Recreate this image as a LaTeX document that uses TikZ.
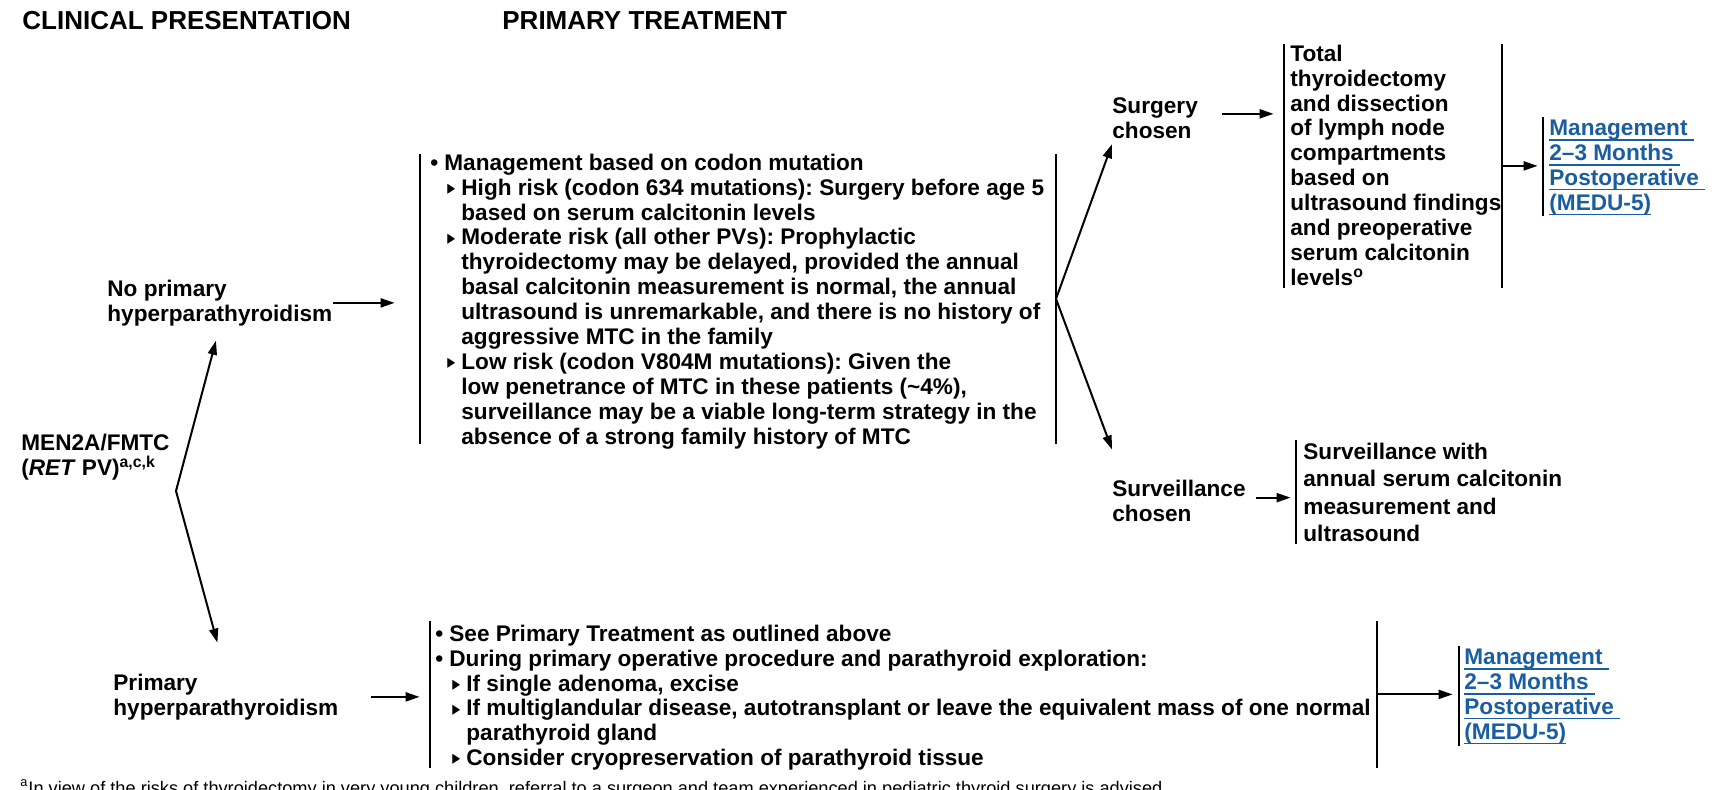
\documentclass[tikz,border=0pt]{standalone}
\usepackage{amssymb}
\usepackage{fontspec}
\setmainfont{Liberation Sans}
\usepackage{xcolor}
\usetikzlibrary{arrows.meta,calc}

\definecolor{linkblue}{HTML}{1A5E9F}
\newcommand{\bodyfont}{\fontsize{11.3pt}{12.45pt}\selectfont\bfseries\frenchspacing}
\newcommand{\survfont}{\fontsize{11.3pt}{13.7pt}\selectfont\bfseries\frenchspacing}
\newcommand{\tri}{\raisebox{0.9pt}{\scalebox{0.55}[0.75]{$\blacktriangleright$}}}
\newcommand{\lvone}{\makebox[7pt][l]{\textbullet}}
\newcommand{\lvtwo}{\hspace*{8pt}\makebox[7.5pt][l]{\tri}}
\newcommand{\lvcont}{\hspace*{15.5pt}}
\newsavebox{\lnkbox}
\newcommand{\lnk}[1]{\sbox\lnkbox{#1}\rlap{\rule[-2.6pt]{\wd\lnkbox}{0.9pt}}\usebox\lnkbox}

\begin{document}
\begin{tikzpicture}[
    x=0.5pt, y=-0.5pt,
    hdr/.style={anchor=base west, inner sep=0pt, font=\fontsize{13pt}{15pt}\selectfont\bfseries},
    txt/.style={anchor=north west, inner sep=0pt, align=left, font=\bodyfont},
    link/.style={txt, text=linkblue},
    vbar/.style={inner sep=0pt, minimum width=0pt, minimum height=#1, anchor=north},
    bar/.style={line width=0.9pt},
    arrow/.style={-{Triangle[length=7pt,width=4.5pt]}, line width=1pt},
    note/.style={anchor=base west, inner sep=0pt, font=\fontsize{9.1pt}{11pt}\selectfont}
]
    \useasboundingbox (0,0) rectangle (1718,790);
    \clip (0,0) rectangle (1718,790);

    % Column headers
    \node[hdr] (hclin) at (22,30) {CLINICAL PRESENTATION};
    \node[hdr] (htreat) at (502,30) {PRIMARY TREATMENT};

    % Clinical presentation
    \node[txt] (men) at (21,433.5) {MEN2A/FMTC\\(\textit{RET} PV)\textsuperscript{a,c,k}};
    \coordinate (split) at (176,491);
    \node[txt] (nophpt) at (107,279.5) {No primary\\hyperparathyroidism};
    \node[txt] (phpt) at (113,673.5) {Primary\\hyperparathyroidism};

    % Primary treatment, no hyperparathyroidism
    \node[txt] (codon) at (430,153.5) {\lvone Management based on codon mutation\\
        \lvtwo High risk (codon 634 mutations): Surgery before age 5\\
        \lvcont based on serum calcitonin levels\\
        \lvtwo Moderate risk (all other PVs): Prophylactic\\
        \lvcont thyroidectomy may be delayed, provided the annual\\
        \lvcont basal calcitonin measurement is normal, the annual\\
        \lvcont ultrasound is unremarkable, and there is no history of\\
        \lvcont aggressive MTC in the family\\
        \lvtwo Low risk (codon V804M mutations): Given the\\
        \lvcont low penetrance of MTC in these patients (\textasciitilde4\%),\\
        \lvcont surveillance may be a viable long-term strategy in the\\
        \lvcont absence of a strong family history of MTC};
    \node[vbar=144.5pt] (codonL) at (420,154) {};
    \node[vbar=144.5pt] (codonR) at (1056,154) {};

    \node[txt] (surg) at (1112,97.5) {Surgery\\chosen};
    \node[txt] (surv) at (1112,479.5) {Surveillance\\chosen};

    \node[txt] (thyr) at (1290,44.5) {Total\\thyroidectomy\\and dissection\\of lymph node\\compartments\\based on\\ultrasound findings\\and preoperative\\serum calcitonin\\levels\textsuperscript{o}};
    \node[vbar=121.5pt] (thyrL) at (1284,44) {};
    \node[vbar=121.5pt] (thyrR) at (1502,44) {};

    \node[link] (medu1) at (1549,119.5) {\lnk{Management\ }\\\lnk{2--3 Months\ }\\\lnk{Postoperative\ }\\\lnk{(MEDU-5)}};
    \node[vbar=49pt] (medu1L) at (1543,117) {};

    \node[txt, font=\survfont] (survtx) at (1303,442.5) {Surveillance with\\annual serum calcitonin\\measurement and\\ultrasound};
    \node[vbar=51.5pt] (survL) at (1296,440) {};

    % Primary treatment, primary hyperparathyroidism
    \node[txt] (para) at (435,624.5) {\lvone See Primary Treatment as outlined above\\
        \lvone During primary operative procedure and parathyroid exploration:\\
        \lvtwo If single adenoma, excise\\
        \lvtwo If multiglandular disease, autotransplant or leave the equivalent mass of one normal\\
        \lvcont parathyroid gland\\
        \lvtwo Consider cryopreservation of parathyroid tissue};
    \node[vbar=73pt] (paraL) at (430,621) {};
    \node[vbar=73pt] (paraR) at (1377,621) {};

    \node[link] (medu2) at (1464,648.5) {\lnk{Management\ }\\\lnk{2--3 Months\ }\\\lnk{Postoperative\ }\\\lnk{(MEDU-5)}};
    \node[vbar=49.5pt] (medu2L) at (1459,646) {};

    % Footnote
    \node[note] (fn) at (20,794) {\textsuperscript{a}In view of the risks of thyroidectomy in very young children, referral to a surgeon and team experienced in pediatric thyroid surgery is advised.};

    % Brackets
    \foreach \b in {codonL,codonR,thyrL,thyrR,medu1L,survL,paraL,paraR,medu2L}
        \draw[bar] (\b.north) -- (\b.south);

    % Arrows
    \draw[arrow, shorten >=7.5pt] (split) -- (nophpt.south);
    \draw[arrow, shorten >=16pt] (split) -- (phpt.north);
    \draw[arrow, shorten >=12.5pt] (nophpt.east) -- (nophpt.east -| codonL.west);
    \draw[arrow, shorten <=16pt, shorten >=5pt] (phpt.east) -- (phpt.east -| paraL.west);
    \draw[arrow] (codonR.center) -- ([yshift=-2.5pt]surg.south west);
    \draw[arrow] (codonR.center) -- ([yshift=15pt]surv.north west);
    \draw[arrow, shorten <=12pt, shorten >=5pt] ([yshift=2.25pt]surg.east) -- ([yshift=2.25pt]surg.east -| thyrL.west);
    \draw[arrow, shorten <=5pt, shorten >=2.5pt] ([yshift=1.5pt]surv.east) -- ([yshift=1.5pt]surv.east -| survL.west);
    \draw[arrow, shorten >=2.5pt] (thyrR.center) -- (thyrR.center -| medu1L.west);
    \draw[arrow, shorten >=3pt] (paraR.center) -- (paraR.center -| medu2L.west);
\end{tikzpicture}
\end{document}
